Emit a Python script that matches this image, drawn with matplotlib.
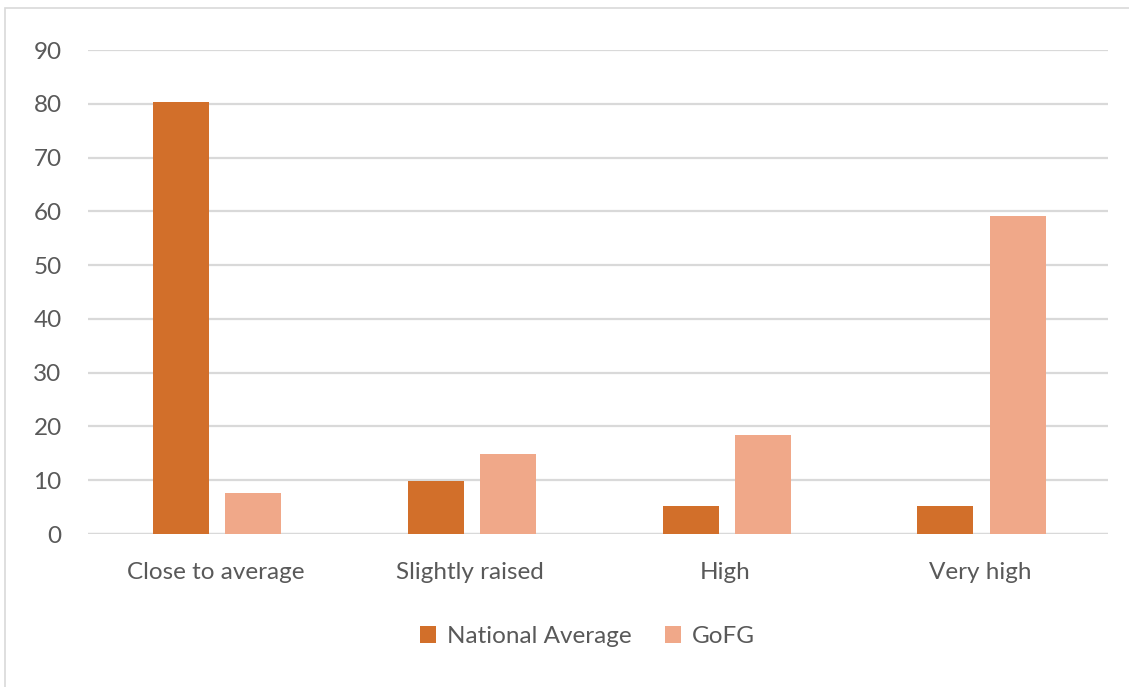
import matplotlib.pyplot as plt
from matplotlib.patches import Rectangle
import numpy as np

categories = ["Close to average", "Slightly raised", "High", "Very high"]
national_average = [80.3, 9.9, 5.3, 5.3]
gofg = [7.6, 14.8, 18.4, 59.1]

plt.rcParams['font.family'] = ['Lato', 'DejaVu Sans']
text_color = "#595959"
grid_color = "#D9D9D9"

fig = plt.figure(figsize=(11.29, 6.87), dpi=100)
ax = fig.add_axes([0.078, 0.2227, 0.903, 0.7043])

x = np.arange(len(categories))
w = 0.22
ax.bar(x - 0.136, national_average, w, color="#D26F2A", label="National Average", zorder=3)
ax.bar(x + 0.147, gofg, w, color="#F0A889", label="GoFG", zorder=3)

ax.set_xlim(-0.5, len(categories) - 0.5)
ax.set_ylim(0, 90)
ax.set_yticks(range(0, 91, 10))
ax.set_xticks(x)
ax.set_xticklabels(categories)
ax.yaxis.grid(True, color=grid_color, linewidth=1.6, zorder=0)
ax.tick_params(axis="both", length=0, labelsize=17.5, colors=text_color)
ax.tick_params(axis="y", pad=19)
ax.tick_params(axis="x", pad=20)
for s in ax.spines.values():
    s.set_visible(False)
ax.axhline(0, color=grid_color, linewidth=1.6, zorder=2)

ax.legend(loc="upper center", bbox_to_anchor=(0.49, -0.145), ncol=2, frameon=False,
          fontsize=17.5, labelcolor=text_color, handlelength=0.65, handleheight=0.65,
          handletextpad=0.45, columnspacing=1.4)

fig.patches.append(Rectangle((0.0045, -0.01), 1.1, 0.998, transform=fig.transFigure,
                             fill=False, edgecolor=grid_color, linewidth=1.2))

fig.savefig("out.png", dpi=100)
